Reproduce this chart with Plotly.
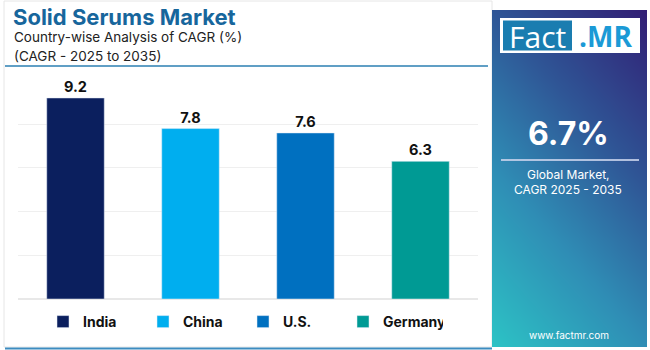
import plotly.graph_objects as go
import numpy as np

countries = ["India", "China", "U.S.", "Germany"]
cagr = [9.2, 7.8, 7.6, 6.3]
colors = ["#0b1f5e", "#00aeef", "#0070c0", "#009a94"]
y_ticks = [0, 2, 4, 6, 8, 10]

W, H = 650, 350
def px(x):
    return x / W
def py(y):
    return 1 - y / H

FONT = "Inter, Lato, sans-serif"

fig = go.Figure()

# right-side gradient panel (heatmap on its own axes)
gx = np.linspace(0, 1, 30)
gy = np.linspace(0, 1, 60)
gz = [[0.72 * yy + 0.38 * xx for xx in gx] for yy in gy]
fig.add_trace(go.Heatmap(
    z=gz, x=gx, y=gy, xaxis="x2", yaxis="y2", zsmooth="best", showscale=False,
    hoverinfo="skip", showlegend=False,
    colorscale=[[0, "#2cc3c5"], [0.35, "#2f8db5"], [0.65, "#2f5696"], [1.0, "#311e74"]],
    zmin=0, zmax=1.1,
))

for c, v, col in zip(countries, cagr, colors):
    fig.add_trace(go.Bar(
        x=[c], y=[v], name=c, marker_color=col, width=0.5,
        text=[f"{v}"], textposition="outside", cliponaxis=False,
        textfont=dict(family=FONT, size=14.5, color="#111111", weight="bold"),
    ))

fig.update_layout(
    width=W, height=H,
    margin=dict(l=0, r=0, t=0, b=0),
    paper_bgcolor="#ffffff",
    plot_bgcolor="#ffffff",
    barmode="overlay",
    bargap=0.5,
    xaxis=dict(domain=[px(18), px(478)], categoryorder="array", categoryarray=countries,
               showticklabels=False, showgrid=False, zeroline=False, ticks=""),
    yaxis=dict(domain=[py(299), py(80.5)], range=[0, 10], tickvals=y_ticks,
               showticklabels=False, showgrid=True, gridcolor="#efefef", gridwidth=1,
               zeroline=True, zerolinecolor="#e8e8e8", ticks=""),
    xaxis2=dict(domain=[px(492), px(647)], range=[0, 1], visible=False, fixedrange=True),
    yaxis2=dict(domain=[py(347), py(10)], range=[0, 1], visible=False, fixedrange=True, anchor="x2"),
    showlegend=True,
    legend=dict(orientation="h", x=px(43), y=py(322), xanchor="left", yanchor="middle",
                font=dict(family=FONT, size=14, color="#111111", weight="bold"),
                entrywidth=55, entrywidthmode="pixels", itemwidth=30,
                bgcolor="rgba(0,0,0,0)", traceorder="normal"),
)

shapes = [
    # card border
    dict(type="rect", xref="paper", yref="paper", x0=px(4), x1=px(492), y0=py(347), y1=py(1),
         line=dict(color="#e6e6e6", width=1), fillcolor="rgba(0,0,0,0)", layer="below"),
    # blue separator under subtitle
    dict(type="line", xref="paper", yref="paper", x0=px(5), x1=px(488), y0=py(66), y1=py(66),
         line=dict(color="#2b7fb2", width=1.5)),
    # bottom line
    dict(type="line", xref="paper", yref="paper", x0=px(5), x1=px(492), y0=py(348.5), y1=py(348.5),
         line=dict(color="#3d8cc0", width=2)),
    # logo white box
    dict(type="rect", xref="paper", yref="paper", x0=px(500), x1=px(640), y0=py(53), y1=py(18),
         fillcolor="#ffffff", line=dict(width=0), layer="above"),
    dict(type="rect", xref="paper", yref="paper", x0=px(503), x1=px(572), y0=py(50.5), y1=py(20.5),
         fillcolor="#1a7db0", line=dict(width=0), layer="above"),
    # divider in panel
    dict(type="line", xref="paper", yref="paper", x0=px(501), x1=px(639), y0=py(160), y1=py(160),
         line=dict(color="rgba(200,210,235,0.85)", width=2), layer="above"),
]

annotations = [
    dict(text="<b>Solid Serums Market</b>", x=px(11), y=py(17), xanchor="left", yanchor="middle",
         font=dict(family=FONT, size=22, color="#17669c"), showarrow=False, xref="paper", yref="paper"),
    dict(text="Country-wise Analysis of CAGR (%)", x=px(12), y=py(37.5), xanchor="left", yanchor="middle",
         font=dict(family=FONT, size=13.5, color="#222222"), showarrow=False, xref="paper", yref="paper"),
    dict(text="(CAGR - 2025 to 2035)", x=px(12), y=py(56), xanchor="left", yanchor="middle",
         font=dict(family=FONT, size=13.5, color="#222222"), showarrow=False, xref="paper", yref="paper"),
    dict(text="Fact", x=px(537.5), y=py(36), xanchor="center", yanchor="middle",
         font=dict(family="Open Sans, sans-serif", size=30, color="#ffffff"), showarrow=False,
         xref="paper", yref="paper"),
    dict(text="<b>.MR</b>", x=px(605), y=py(36), xanchor="center", yanchor="middle",
         font=dict(family="Open Sans, sans-serif", size=28, color="#1b9ad6"), showarrow=False,
         xref="paper", yref="paper"),
    dict(text="<b>6.7%</b>", x=px(568), y=py(133), xanchor="center", yanchor="middle",
         font=dict(family=FONT, size=32, color="#ffffff"), showarrow=False, xref="paper", yref="paper"),
    dict(text="Global Market,", x=px(568), y=py(174), xanchor="center", yanchor="middle",
         font=dict(family=FONT, size=12, color="#ffffff"), showarrow=False, xref="paper", yref="paper"),
    dict(text="CAGR 2025 - 2035", x=px(568), y=py(189), xanchor="center", yanchor="middle",
         font=dict(family=FONT, size=12, color="#ffffff"), showarrow=False, xref="paper", yref="paper"),
    dict(text="www.factmr.com", x=px(569), y=py(335), xanchor="center", yanchor="middle",
         font=dict(family=FONT, size=10, color="#ffffff"), showarrow=False, xref="paper", yref="paper"),
]

fig.update_layout(shapes=shapes, annotations=annotations)
fig.write_html("out.html")
